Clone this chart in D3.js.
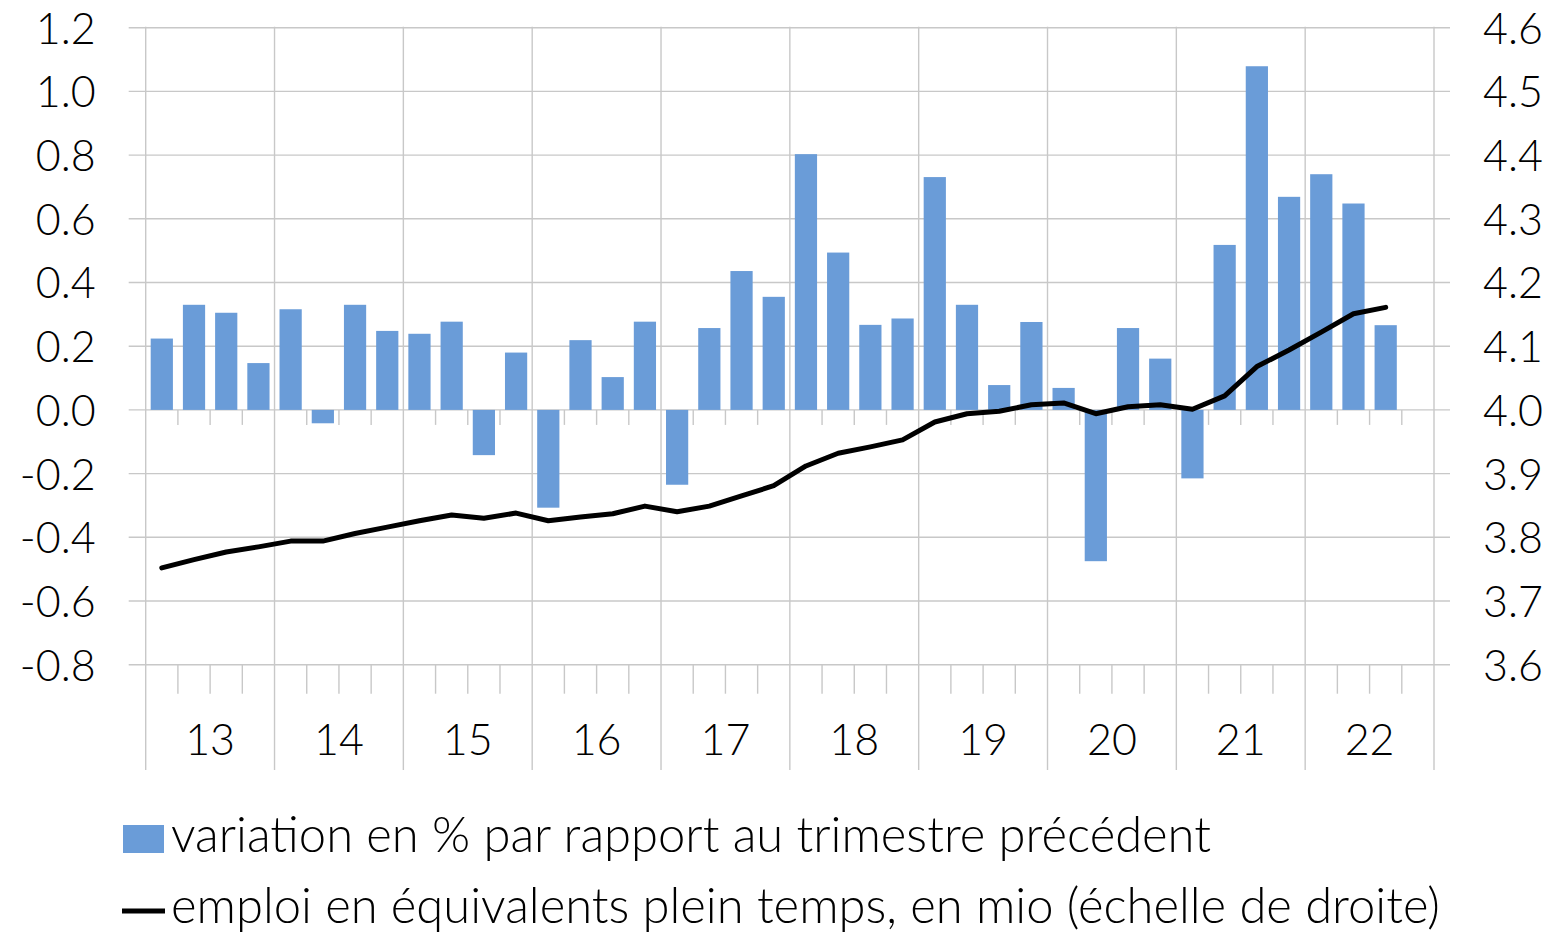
<!DOCTYPE html>
<html>
<head>
<meta charset="utf-8">
<script src="https://cdn.jsdelivr.net/npm/d3@7"></script>
<style>
  html, body { margin: 0; padding: 0; background: #fff; }
  svg { display: block; }
  text { font-family: Lato, "Open Sans", sans-serif; font-weight: 300; fill: #000; }
</style>
</head>
<body>
<svg id="chart" width="1555" height="933"></svg>
<script>
// ---------------- DATA ----------------
const years = ["13", "14", "15", "16", "17", "18", "19", "20", "21", "22"];
const quarterNames = ["Q1", "Q2", "Q3", "Q4"];

// % change vs previous quarter (left axis), 2013Q1 .. 2022Q3
const barValues = [
  0.224, 0.330, 0.305, 0.147,
  0.316, -0.042, 0.330, 0.248,
  0.239, 0.277, -0.142, 0.180,
  -0.307, 0.219, 0.103, 0.277,
  -0.235, 0.257, 0.436, 0.355,
  0.803, 0.494, 0.267, 0.287,
  0.731, 0.330, 0.078, 0.276,
  0.069, -0.475, 0.257, 0.161,
  -0.215, 0.518, 1.079, 0.669,
  0.740, 0.648, 0.266
];

// Full-time equivalent employment, millions (right axis), 2013Q1 .. 2022Q3
const lineValues = [
  3.752, 3.765, 3.777, 3.785,
  3.794, 3.794, 3.806, 3.816,
  3.826, 3.835, 3.830, 3.838,
  3.826, 3.832, 3.837, 3.849,
  3.840, 3.849, 3.865, 3.881,
  3.912, 3.932, 3.942, 3.953,
  3.981, 3.994, 3.998, 4.008,
  4.011, 3.994, 4.005, 4.008,
  4.001, 4.022, 4.068, 4.094,
  4.122, 4.151, 4.161
];

const leftTicks = [-0.8, -0.6, -0.4, -0.2, 0.0, 0.2, 0.4, 0.6, 0.8, 1.0, 1.2];
const rightTicks = [3.6, 3.7, 3.8, 3.9, 4.0, 4.1, 4.2, 4.3, 4.4, 4.5, 4.6];

const legendLabels = [
  "variation en % par rapport au trimestre précédent",
  "emploi en équivalents plein temps, en mio (échelle de droite)"
];

// ---------------- LAYOUT ----------------
const plot = { left: 145.7, right: 1434, top: 27.7, bottom: 664.7 };
const barColor = "#6a9cd8";
const gridColor = "#c8c8c8";
const tickFont = 43;

const quarters = [];
years.forEach(y => quarterNames.forEach(q => quarters.push(y + q)));

const svg = d3.select("#chart");

const x = d3.scaleBand().domain(quarters).range([plot.left, plot.right]).paddingInner(0.31).paddingOuter(0.155);
const xYear = d3.scaleBand().domain(years).range([plot.left, plot.right]);
const yL = d3.scaleLinear().domain([-0.8, 1.2]).range([plot.bottom, plot.top]);
const yR = d3.scaleLinear().domain([3.6, 4.6]).range([plot.bottom, plot.top]);
const step = x.step();

// horizontal gridlines (extend past the axes like tick marks)
svg.append("g").selectAll("line").data(leftTicks).join("line")
  .attr("x1", plot.left - 17).attr("x2", plot.right + 16)
  .attr("y1", d => yL(d)).attr("y2", d => yL(d))
  .attr("stroke", gridColor).attr("stroke-width", 1.4);

// vertical year boundaries
const yearEdges = years.map(y => xYear(y)).concat([plot.right]);
svg.append("g").selectAll("line").data(yearEdges).join("line")
  .attr("x1", d => d).attr("x2", d => d)
  .attr("y1", plot.top - 1).attr("y2", 770)
  .attr("stroke", gridColor).attr("stroke-width", 1.4);

// quarter tick marks at the zero line and at the bottom
const innerEdges = quarters.filter((q, i) => i % 4 !== 0).map(q => x(q) - (step - x.bandwidth()) / 2);
const ticksG = svg.append("g");
ticksG.selectAll("line.z").data(innerEdges).join("line").attr("class", "z")
  .attr("x1", d => d).attr("x2", d => d)
  .attr("y1", yL(0)).attr("y2", yL(0) + 15)
  .attr("stroke", gridColor).attr("stroke-width", 1.4);
ticksG.selectAll("line.b").data(innerEdges).join("line").attr("class", "b")
  .attr("x1", d => d).attr("x2", d => d)
  .attr("y1", plot.bottom).attr("y2", plot.bottom + 29)
  .attr("stroke", gridColor).attr("stroke-width", 1.4);

// bars
svg.append("g").selectAll("rect").data(barValues).join("rect")
  .attr("x", (d, i) => x(quarters[i]))
  .attr("width", x.bandwidth())
  .attr("y", d => Math.min(yL(d), yL(0)))
  .attr("height", d => Math.abs(yL(d) - yL(0)))
  .attr("fill", barColor);

// line
const line = d3.line()
  .x((d, i) => x(quarters[i]) + x.bandwidth() / 2)
  .y(d => yR(d));
svg.append("path").datum(lineValues)
  .attr("d", line)
  .attr("fill", "none").attr("stroke", "#000").attr("stroke-width", 5)
  .attr("stroke-linejoin", "round").attr("stroke-linecap", "round");

// left axis
const axL = svg.append("g").attr("transform", `translate(${plot.left - 50},0)`)
  .call(d3.axisLeft(yL).tickValues(leftTicks).tickFormat(d => d.toFixed(1)).tickSize(0).tickPadding(0));
axL.select(".domain").remove();
axL.selectAll("text").style("font-size", tickFont + "px").attr("dy", "0.36em");

// right axis
const axR = svg.append("g").attr("transform", `translate(${plot.right + 49},0)`)
  .call(d3.axisRight(yR).tickValues(rightTicks).tickFormat(d => d.toFixed(1)).tickSize(0).tickPadding(0));
axR.select(".domain").remove();
axR.selectAll("text").style("font-size", tickFont + "px").attr("dy", "0.36em");

// year labels
const axX = svg.append("g").attr("transform", `translate(0,${755})`)
  .call(d3.axisBottom(xYear).tickSize(0).tickPadding(0));
axX.select(".domain").remove();
axX.selectAll("text").style("font-size", tickFont + "px").attr("dy", "0").attr("y", 0);

// legend
const lg = svg.append("g");
lg.append("rect").attr("x", 123).attr("y", 825).attr("width", 41).attr("height", 28).attr("fill", barColor);
lg.append("line").attr("x1", 122).attr("x2", 165).attr("y1", 911).attr("y2", 911)
  .attr("stroke", "#000").attr("stroke-width", 5);
const lt = lg.selectAll("text.lg").data(legendLabels).join("text").attr("class", "lg")
  .attr("x", 171).attr("y", (d, i) => i === 0 ? 852 : 923)
  .style("font-size", "44px").text(d => d);
// fit font size to the reference text width
const targets = [1039, 1271];
let ratio = 0;
lt.each(function(d, i) { ratio += targets[i] / this.getComputedTextLength(); });
ratio /= 2;
lt.style("font-size", (44 * ratio) + "px");
</script>
</body>
</html>
